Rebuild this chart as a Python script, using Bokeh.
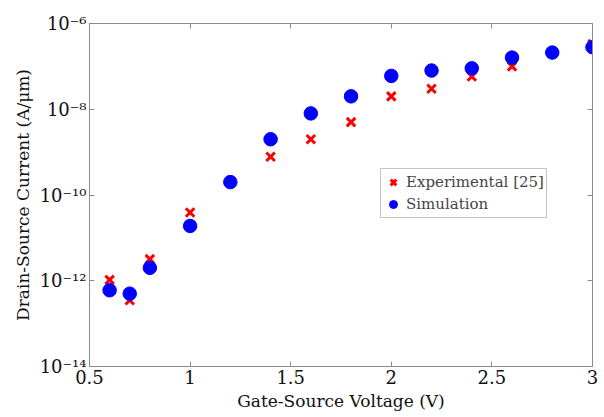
from bokeh.plotting import figure
from bokeh.models import LogAxis, LinearAxis, Range1d, FixedTicker, Legend, LegendItem
from bokeh.embed import file_html
from bokeh.resources import INLINE

vgs = [0.6, 0.7, 0.8, 1.0, 1.2, 1.4, 1.6, 1.8, 2.0, 2.2, 2.4, 2.6, 2.8, 3.0]
experimental = [1.05e-12, 3.5e-13, 3.2e-12, 3.9e-11, 2.0e-10, 7.8e-10, 2.0e-9, 5.0e-9,
                2.0e-8, 3.0e-8, 5.8e-8, 1.0e-7, 2.1e-7, 3.3e-7]
simulation = [6.0e-13, 5.0e-13, 2.0e-12, 1.9e-11, 2.0e-10, 2.0e-9, 8.0e-9, 2.0e-8,
              6.0e-8, 8.0e-8, 9.0e-8, 1.6e-7, 2.1e-7, 2.8e-7]
x_ticks = [0.5, 1.0, 1.5, 2.0, 2.5, 3.0]
x_tick_labels = ["0.5", "1", "1.5", "2", "2.5", "3"]
y_ticks = [1e-14, 1e-12, 1e-10, 1e-8, 1e-6]
y_tick_labels = ["10\u207b\u00b9\u2074", "10\u207b\u00b9\u00b2", "10\u207b\u00b9\u2070",
                 "10\u207b\u2078", "10\u207b\u2076"]

FONT = "DejaVu Serif"
AX = "#8c8c8c"

p = figure(width=604, height=417, y_axis_type="log", output_backend="svg",
           toolbar_location=None, x_range=Range1d(0.5, 3.0), y_range=Range1d(1e-14, 1e-6),
           min_border_left=89, min_border_right=12, min_border_top=23, min_border_bottom=51)
p.grid.visible = False
p.outline_line_color = AX
p.background_fill_color = "white"

def style(ax):
    ax.axis_line_color = AX
    ax.major_tick_line_color = AX
    ax.major_tick_in = 5
    ax.major_tick_out = 0
    ax.minor_tick_line_color = None
    ax.major_label_text_font = FONT
    ax.major_label_text_font_size = "18px"
    ax.major_label_text_color = "#111111"
    ax.axis_label_text_font = FONT
    ax.axis_label_text_font_size = "17px"
    ax.axis_label_text_font_style = "normal"
    ax.axis_label_text_color = "#111111"

xa = p.xaxis[0]
xa.ticker = FixedTicker(ticks=x_ticks)
xa.major_label_overrides = {t: l for t, l in zip(x_ticks, x_tick_labels)}
xa.axis_label = "Gate-Source Voltage (V)"
xa.axis_label_standoff = 4
xa.major_label_standoff = 3
style(xa)

ya = p.yaxis[0]
ya.ticker = FixedTicker(ticks=y_ticks)
ya.major_label_overrides = {t: l for t, l in zip(y_ticks, y_tick_labels)}
ya.axis_label = "Drain-Source Current (A/\u03bcm)"
ya.axis_label_standoff = 4
ya.major_label_standoff = 3
style(ya)

top = LinearAxis(ticker=FixedTicker(ticks=x_ticks))
style(top)
top.major_label_overrides = {t: "" for t in x_ticks}
top.major_label_standoff = 0
p.add_layout(top, "above")
right = LogAxis(ticker=FixedTicker(ticks=y_ticks))
style(right)
right.major_label_overrides = {t: "" for t in y_ticks}
right.major_label_standoff = 0
p.add_layout(right, "right")

r_exp = p.scatter(vgs, experimental, marker="x", size=12, line_color="#ff0000", line_width=3)
r_sim = p.scatter(vgs, simulation, marker="circle", size=13.5, fill_color="#0000ff", line_color="#0000ff")

legend = Legend(items=[LegendItem(label="Experimental [25]", renderers=[r_exp]),
                       LegendItem(label="Simulation", renderers=[r_sim])],
                location=(291, 148))
legend.label_text_font = FONT
legend.label_text_font_size = "15px"
legend.border_line_color = AX
legend.padding = 2
legend.spacing = 0
legend.margin = 0
legend.glyph_width = 20
legend.label_standoff = 3
legend.label_height = 22
legend.glyph_height = 22
p.add_layout(legend, "center")

open("out.html", "w").write(file_html(p, INLINE))
